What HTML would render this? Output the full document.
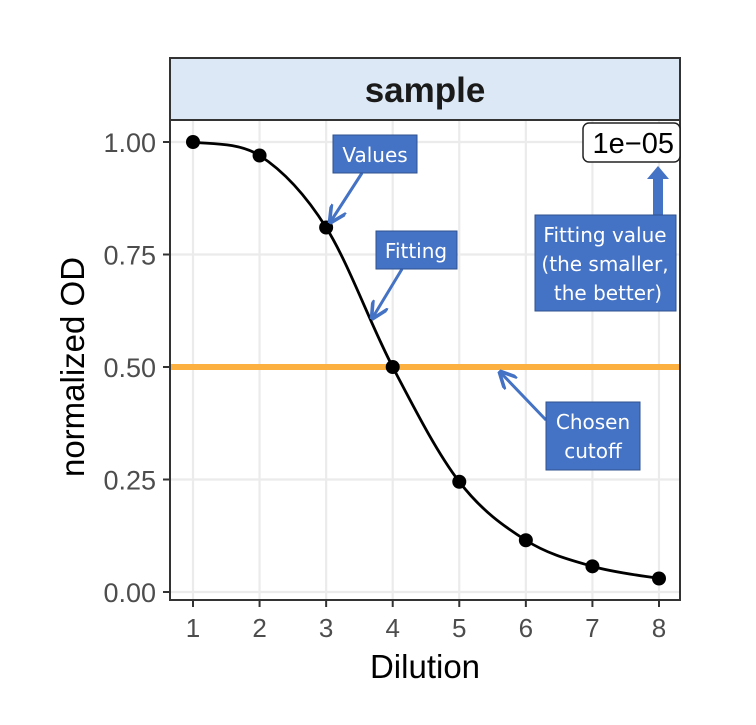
<!DOCTYPE html>
<html><head><meta charset="utf-8"><style>
body{margin:0;background:#fff;}
svg text{font-family:"Liberation Sans",sans-serif;}
.lab{font-family:"DejaVu Sans","Liberation Sans",sans-serif;}
</style></head><body>
<svg id="chart" width="756" height="720" viewBox="0 0 756 720" xmlns="http://www.w3.org/2000/svg">
<rect width="756" height="720" fill="#fff"/>
<g id="grid"></g>
<g id="ticks"></g>
<rect x="170" y="58" width="510" height="62" fill="#dce8f5" stroke="#333" stroke-width="2"/>
<text x="425" y="102" font-size="35" font-weight="bold" text-anchor="middle" fill="#1a1a1a">sample</text>
<line id="cutoff" x1="171" x2="679" stroke="#fbb040" stroke-width="6"/>
<path id="curve" fill="none" stroke="#000" stroke-width="2.8"/>
<g id="points"></g>
<rect x="170" y="120" width="510" height="480" fill="none" stroke="#333" stroke-width="2"/>
<text x="425" y="678" font-size="33" text-anchor="middle" fill="#000">Dilution</text>
<text transform="translate(84,367) rotate(-90)" font-size="33" text-anchor="middle" fill="#000">normalized OD</text>
<g>
<rect x="583" y="123" width="97" height="39" rx="6" fill="#fff" stroke="#222" stroke-width="1.5"/>
<text x="674" y="153" font-size="29" text-anchor="end" fill="#000">1e−05</text>
</g>
<defs><marker id="ah" markerWidth="6" markerHeight="6" refX="5" refY="3" orient="auto"><path d="M0,0 L6,3 L0,6" fill="none" stroke="#4472c4" stroke-width="1.2"/></marker></defs>
<g fill="#4472c4">
<line x1="362" y1="173" x2="331" y2="221" stroke="#4472c4" stroke-width="3" marker-end="url(#ah)"/>
<line x1="402" y1="269" x2="373" y2="317" stroke="#4472c4" stroke-width="3" marker-end="url(#ah)"/>
<line x1="546" y1="420" x2="501" y2="373" stroke="#4472c4" stroke-width="3" marker-end="url(#ah)"/>
<rect x="653" y="178" width="10" height="38" fill="#4472c4"/>
<polygon points="647,179 669,179 658,166" fill="#4472c4"/>
<rect x="333" y="135" width="84" height="38" stroke="#2f528f"/>
<text class="lab" x="375" y="162" font-size="20" fill="#fff" text-anchor="middle">Values</text>
<rect x="376" y="231" width="81" height="38" stroke="#2f528f"/>
<text class="lab" x="416" y="258" font-size="20" fill="#fff" text-anchor="middle">Fitting</text>
<rect x="535" y="215" width="141" height="96" stroke="#2f528f"/>
<text class="lab" x="605" y="242" font-size="20" fill="#fff" text-anchor="middle">Fitting value</text>
<text class="lab" x="605" y="271" font-size="20" fill="#fff" text-anchor="middle">(the smaller,</text>
<text class="lab" x="608" y="300" font-size="20" fill="#fff" text-anchor="middle">the better)</text>
<rect x="546" y="402" width="94" height="68" stroke="#2f528f"/>
<text class="lab" x="593" y="429" font-size="20" fill="#fff" text-anchor="middle">Chosen</text>
<text class="lab" x="593" y="458" font-size="20" fill="#fff" text-anchor="middle">cutoff</text>
</g>
</svg>
<script>
const dilution=[1,2,3,4,5,6,7,8];
const odValues=[1.0,0.97,0.81,0.5,0.245,0.115,0.057,0.03];
const yTicks=[0,0.25,0.5,0.75,1];
const yTickLabels=["0.00","0.25","0.50","0.75","1.00"];
const cutoffValue=[0.5];
const xs=v=>193+(v-1)*66.57;
const ys=v=>592-v*450;
const NS="http://www.w3.org/2000/svg";
function mk(t,a,p){const e=document.createElementNS(NS,t);for(const k in a)e.setAttribute(k,a[k]);p.appendChild(e);return e;}
const grid=document.getElementById('grid'),ticks=document.getElementById('ticks');
mk('rect',{x:170,y:120,width:510,height:480,fill:'#fff'},grid);
dilution.forEach(d=>{
 const l=mk('line',{x1:xs(d),x2:xs(d),y1:121,y2:599,stroke:'#ebebeb','stroke-width':2.2},grid);
 
 
 mk('line',{x1:xs(d),x2:xs(d),y1:600,y2:607,stroke:'#333','stroke-width':2},ticks);
 const t=mk('text',{x:xs(d),y:637,'font-size':26,'text-anchor':'middle',fill:'#4d4d4d'},ticks);
 
 
 t.textContent=d;
});
yTicks.forEach((v,i)=>{
 const l=mk('line',{x1:171,x2:679,y1:ys(v),y2:ys(v),stroke:'#ebebeb','stroke-width':2.2},grid);
 
 
 mk('line',{x1:163,x2:170,y1:ys(v),y2:ys(v),stroke:'#333','stroke-width':2},ticks);
 const t=mk('text',{x:156,y:ys(v)+10,'font-size':27,'text-anchor':'end',fill:'#4d4d4d'},ticks);
 
 
 t.textContent=yTickLabels[i];
});
const c=document.getElementById('cutoff');c.setAttribute('y1',ys(cutoffValue[0]));c.setAttribute('y2',ys(cutoffValue[0]));
const P=dilution.map((d,i)=>[xs(d),ys(odValues[i])]);
let d='M'+P[0][0]+','+P[0][1];
for(let i=0;i<P.length-1;i++){
 const p0=P[i-1]||P[i],p1=P[i],p2=P[i+1],p3=P[i+2]||P[i+1];
 const c1=[p1[0]+(p2[0]-p0[0])/6,p1[1]+(p2[1]-p0[1])/6],c2=[p2[0]-(p3[0]-p1[0])/6,p2[1]-(p3[1]-p1[1])/6];
 d+=` C${c1[0]},${c1[1]} ${c2[0]},${c2[1]} ${p2[0]},${p2[1]}`;
}
document.getElementById('curve').setAttribute('d',d);
const pts=document.getElementById('points');
P.forEach(p=>{
 const e=mk('circle',{cx:p[0],cy:p[1],r:7,fill:'#000'},pts);
 
 
});
</script>
</body></html>
